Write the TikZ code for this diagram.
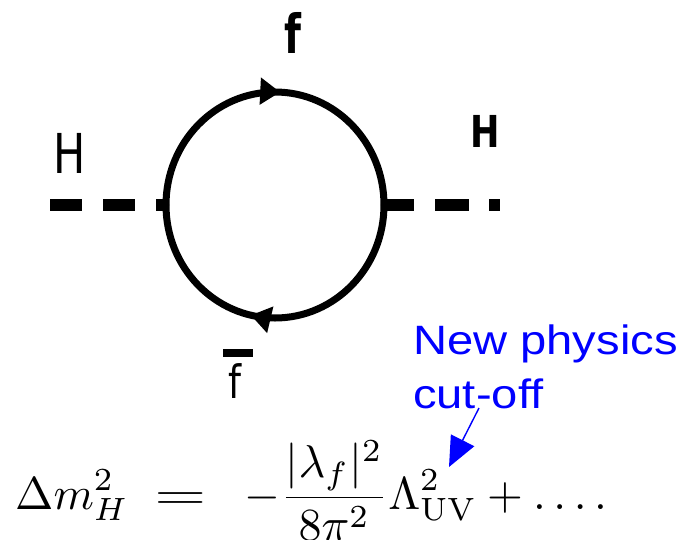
\documentclass[tikz,border=0pt]{standalone}
\usepackage{fontspec}
\usetikzlibrary{arrows.meta,decorations.markings}
\newfontfamily\lblfont{DejaVu Sans}
\newfontfamily\bluefont{Liberation Sans}
\definecolor{pureblue}{RGB}{0,0,255}
\tikzset{
  loopline/.style={line width=7pt},
  higgsline/.style={line width=12pt, line cap=butt},
  lbl/.style={inner sep=0pt, anchor=base},
  bluetext/.style={inner sep=0pt, anchor=base west, text=pureblue},
  blueptr/.style={draw=pureblue, line width=1.4pt, -{Triangle[length=30pt,width=26pt]}},
  fermiontip/.style={decoration={markings, mark=at position #1 with {\arrow{Triangle[length=20pt,width=26pt]}}}, postaction={decorate}}
}
\begin{document}
\begin{tikzpicture}[x=1pt,y=-1pt]
\useasboundingbox (0,0) rectangle (683,539);
% vertices
\coordinate (L) at (166,205);
\coordinate (R) at (384,205);
\coordinate (Hin) at (50,205);
\coordinate (Hout) at (500,205);
% fermion loop
\draw[loopline, fermiontip=0.515] (L) arc[start angle=180, end angle=360, x radius=109, y radius=113];
\draw[loopline, fermiontip=0.57] (R) arc[start angle=0, end angle=180, x radius=109, y radius=113];
% Higgs lines
\draw[higgsline, dash pattern=on 32pt off 21pt] (Hin) -- (L);
\draw[higgsline, dash pattern=on 30pt off 21pt on 34pt off 20pt] (R) -- (Hout);
% labels
\node[lbl] (fl) at (293,53) {\scalebox{0.72}[1]{\fontsize{54}{60}\selectfont\lblfont\bfseries f}};
\node[lbl] (Hl) at (70,173) {\scalebox{0.78}[1]{\fontsize{55}{60}\selectfont\lblfont H}};
\node[lbl] (Hr) at (485,147) {\scalebox{0.8}[1]{\fontsize{44}{50}\selectfont\lblfont\bfseries H}};
\node[inner sep=0pt, anchor=north] (fb) at (238,349) {\vbox{\hrule width 30pt height 8pt \kern 6pt \hbox to 30pt{\hss\scalebox{0.8}[1]{\fontsize{46}{50}\selectfont\lblfont f}\hskip 6pt\hss}}};
% blue annotation
\node[bluetext] (np) at (413,354) {\scalebox{1.15}[1]{\fontsize{41}{50}\selectfont\bluefont New physics}};
\node[bluetext] (co) at (413,408) {\scalebox{1.15}[1]{\fontsize{41}{50}\selectfont\bluefont cut-off}};
\coordinate (ptrstart) at (479,408);
\coordinate (ptrend) at (449,467);
\draw[blueptr] (ptrstart) -- (ptrend);
% equation
\node[inner sep=0pt, anchor=base west] (eq) at (15,509) {\scalebox{4.6}{$\displaystyle \Delta m_H^2\mkern5mu \mathrel{\scalebox{1.45}[1]{$=$}}\;\; -\frac{|\lambda_f|^2}{8\pi^2}\Lambda_{\mathrm{UV}}^2 + \ldots.$}};
\end{tikzpicture}
\end{document}
